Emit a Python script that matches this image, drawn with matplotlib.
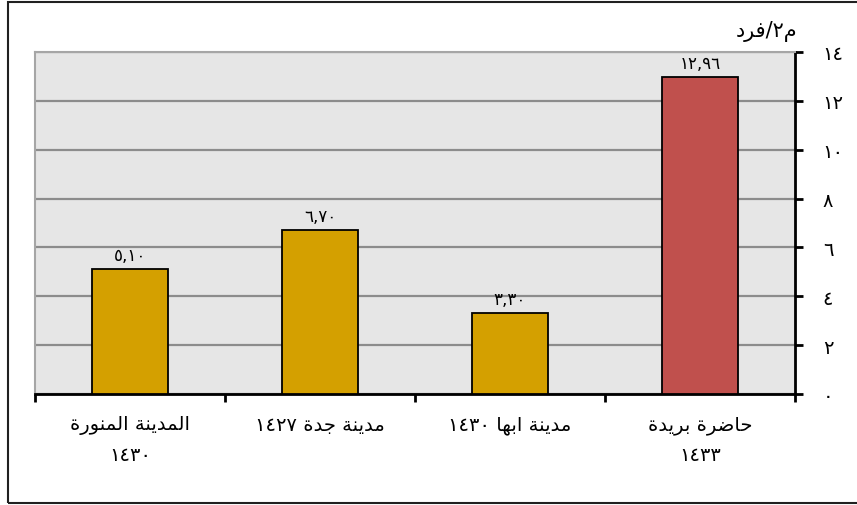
import matplotlib
matplotlib.use("Agg")
import matplotlib.pyplot as plt
from matplotlib.patches import Rectangle

# data
cities = ["المدينة المنورة\n١٤٣٠", "مدينة جدة ١٤٢٧", "مدينة ابها ١٤٣٠", "حاضرة بريدة\n١٤٣٣"]
values = [5.10, 6.70, 3.30, 12.96]
value_labels = ["٥,١٠", "٦,٧٠", "٣,٣٠", "١٢,٩٦"]
bar_colors = ["#D4A000", "#D4A000", "#D4A000", "#C0504D"]
y_ticks = [0, 2, 4, 6, 8, 10, 12, 14]
y_tick_labels = ["٠", "٢", "٤", "٦", "٨", "١٠", "١٢", "١٤"]
unit_label = "م٢/فرد"

# matplotlib does no arabic shaping, so do it by hand with presentation forms
# (isolated, final, initial, medial)
forms = {
    "ا": ("\uFE8D", "\uFE8E", None, None),
    "ب": ("\uFE8F", "\uFE90", "\uFE91", "\uFE92"),
    "ة": ("\uFE93", "\uFE94", None, None),
    "ج": ("\uFE9D", "\uFE9E", "\uFE9F", "\uFEA0"),
    "ح": ("\uFEA1", "\uFEA2", "\uFEA3", "\uFEA4"),
    "د": ("\uFEA9", "\uFEAA", None, None),
    "ر": ("\uFEAD", "\uFEAE", None, None),
    "ض": ("\uFEBD", "\uFEBE", "\uFEBF", "\uFEC0"),
    "ف": ("\uFED1", "\uFED2", "\uFED3", "\uFED4"),
    "ل": ("\uFEDD", "\uFEDE", "\uFEDF", "\uFEE0"),
    "م": ("\uFEE1", "\uFEE2", "\uFEE3", "\uFEE4"),
    "ن": ("\uFEE5", "\uFEE6", "\uFEE7", "\uFEE8"),
    "ه": ("\uFEE9", "\uFEEA", "\uFEEB", "\uFEEC"),
    "و": ("\uFEED", "\uFEEE", None, None),
    "ي": ("\uFEF1", "\uFEF2", "\uFEF3", "\uFEF4"),
}


def shape_word(w):
    out = []
    for i, ch in enumerate(w):
        f = forms[ch]
        prev_joins = i > 0 and forms[w[i - 1]][2] is not None
        next_joins = i < len(w) - 1 and f[2] is not None
        if prev_joins and next_joins:
            out.append(f[3])
        elif prev_joins:
            out.append(f[1])
        elif next_joins:
            out.append(f[2])
        else:
            out.append(f[0])
    return "".join(reversed(out))


def rtl_line(s):
    runs = []
    for ch in s:
        kind = "a" if ch in forms else ("d" if "\u0660" <= ch <= "\u0669" else "o")
        if runs and runs[-1][0] == kind and kind != "o":
            runs[-1][1] += ch
        else:
            runs.append([kind, ch])
    parts = []
    for kind, txt in reversed(runs):
        parts.append(shape_word(txt) if kind == "a" else txt)
    return "".join(parts)


def rtl(s):
    return "\n".join(rtl_line(l) for l in s.split("\n"))


plt.rcParams["font.family"] = ["DejaVu Sans"]

fig = plt.figure(figsize=(8.57, 5.06), dpi=100)
fig.patches.append(Rectangle((8 / 857, 2 / 506), 1.05, 501 / 506, transform=fig.transFigure,
                             fill=False, edgecolor="#202020", linewidth=1.5))
ax = fig.add_axes([35 / 857, 111 / 506, 760 / 857, 342 / 506])
ax.set_facecolor("#E6E6E6")

x = list(range(len(values)))
bars = ax.bar(x, values, width=0.4, color=bar_colors, edgecolor="black", linewidth=1.3, zorder=3)
for b, lab in zip(bars, value_labels):
    ax.annotate(lab, (b.get_x() + b.get_width() / 2, b.get_height()), xytext=(0, 4),
                textcoords="offset points", ha="center", va="bottom", fontsize=12)

ax.set_xlim(-0.5, 3.5)
ax.set_ylim(0, 14)
ax.set_xticks([-0.5, 0.5, 1.5, 2.5, 3.5])
ax.set_xticklabels([])
ax.set_xticks(x, minor=True)
ax.set_xticklabels([rtl(c) for c in cities], minor=True, fontsize=14, linespacing=1.75, va="top")
ax.tick_params(axis="x", which="major", direction="out", length=6, width=2)
ax.tick_params(axis="x", which="minor", length=0, pad=15)

ax.yaxis.tick_right()
ax.set_yticks(y_ticks)
ax.set_yticklabels(y_tick_labels, fontsize=14, ha="left")
ax.tick_params(axis="y", direction="out", length=6, width=2, pad=14)
ax.grid(axis="y", color="#8C8C8C", linewidth=1.6, zorder=1)
ax.set_axisbelow(True)

for s in ["bottom", "right"]:
    ax.spines[s].set_color("black")
    ax.spines[s].set_linewidth(2)
for s in ["left", "top"]:
    ax.spines[s].set_color("#A6A6A6")
    ax.spines[s].set_linewidth(1.5)

fig.text(767 / 857, 1 - 31 / 506, rtl(unit_label), ha="center", va="center", fontsize=15)

fig.savefig("out.png", dpi=100)
